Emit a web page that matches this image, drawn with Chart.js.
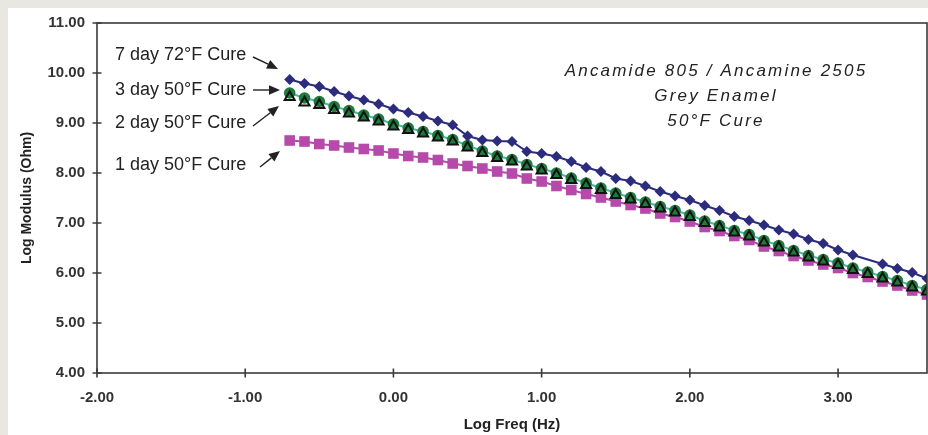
<!DOCTYPE html>
<html><head><meta charset="utf-8">
<script src="https://cdn.jsdelivr.net/npm/chart.js@4.4.1/dist/chart.umd.min.js"></script>
<style>
html,body{margin:0;padding:0;background:#e9e7e1;overflow:hidden;}
#wrap{position:absolute;left:0;top:0;width:928px;height:435px;}
</style></head><body>
<div id="wrap"><canvas id="c" width="928" height="435"></canvas></div>
<script>
// ---- data ----
const logFreq = [-0.7,-0.6,-0.5,-0.4,-0.3,-0.2,-0.1,0.0,0.1,0.2,0.3,0.4,0.5,0.6,0.7,0.8,0.9,1.0,1.1,1.2,1.3,1.4,1.5,1.6,1.7,1.8,1.9,2.0,2.1,2.2,2.3,2.4,2.5,2.6,2.7,2.8,2.9,3.0,3.1,3.2,3.3,3.4,3.5,3.6];
const cure7day72F = [9.87,9.79,9.73,9.63,9.54,9.46,9.38,9.28,9.21,9.13,9.04,8.96,8.74,8.66,8.64,8.63,8.43,8.39,8.33,8.23,8.11,8.03,7.89,7.84,7.74,7.63,7.54,7.46,7.35,7.25,7.13,7.05,6.96,6.86,6.78,6.67,6.59,6.46,6.36,null,6.18,6.09,6.01,5.89];
const cure3day50F = [9.60,9.50,9.43,9.33,9.25,9.16,9.08,8.98,8.90,8.83,8.75,8.67,8.55,8.44,8.34,8.27,8.17,8.09,8.00,7.90,7.80,7.70,7.60,7.51,7.42,7.33,7.25,7.16,7.04,6.95,6.85,6.77,6.65,6.55,6.45,6.35,6.27,6.20,6.10,6.02,5.93,5.85,5.75,5.67];
const cure2day50F = [9.52,9.41,9.36,9.26,9.19,9.11,9.03,8.93,8.86,8.79,8.71,8.63,8.51,8.40,8.30,8.23,8.13,8.05,7.96,7.86,7.76,7.66,7.56,7.47,7.38,7.29,7.21,7.12,7.00,6.91,6.81,6.73,6.61,6.51,6.41,6.31,6.23,6.16,6.06,5.98,5.89,5.81,5.71,5.63];
const cure1day50F = [8.65,8.63,8.58,8.55,8.51,8.48,8.45,8.39,8.34,8.31,8.26,8.19,8.14,8.09,8.03,7.99,7.89,7.83,7.74,7.66,7.58,7.51,7.43,7.36,7.29,7.19,7.12,7.03,6.92,6.84,6.74,6.66,6.53,6.44,6.34,6.25,6.17,6.10,6.00,5.92,5.83,5.75,5.65,5.57];
const xTickValues = [-2,-1,0,1,2,3];
const yTickValues = [4,5,6,7,8,9,10,11];
const seriesLabels = ['7 day 72°F Cure','3 day 50°F Cure','2 day 50°F Cure','1 day 50°F Cure'];
const titleLines = ['Ancamide 805 / Ancamine 2505','Grey Enamel','50°F Cure'];

const pts = arr => logFreq.map((f,i)=>({x:f,y:arr[i]}));
const FONT = '"Liberation Sans", Arial, sans-serif';
Chart.defaults.font.family = FONT;

function arrow(ctx,x1,y1,x2,y2){
  const a=Math.atan2(y2-y1,x2-x1), L=11, W=4.8;
  const bx=x2-L*Math.cos(a), by=y2-L*Math.sin(a);
  ctx.beginPath(); ctx.moveTo(x1,y1); ctx.lineTo(bx,by); ctx.stroke();
  ctx.beginPath(); ctx.moveTo(x2,y2);
  ctx.lineTo(bx+W*Math.sin(a), by-W*Math.cos(a));
  ctx.lineTo(bx-W*Math.sin(a), by+W*Math.cos(a));
  ctx.closePath(); ctx.fill();
}

const deco = {
  id:'deco',
  beforeDraw(chart){
    const ctx=chart.ctx; ctx.save();
    ctx.fillStyle='#e9e7e1'; ctx.fillRect(0,0,chart.width,chart.height);
    ctx.fillStyle='#ffffff'; ctx.fillRect(8,8,chart.width-8,chart.height-8);
    ctx.restore();
  },
  afterDraw(chart){
    const {ctx, chartArea:a, scales:{x,y}} = chart;
    ctx.save();
    ctx.strokeStyle='#3a3a3a'; ctx.lineWidth=1.6;
    ctx.strokeRect(a.left,a.top,a.right-a.left,a.bottom-a.top);
    ctx.beginPath();
    xTickValues.forEach(v=>{const px=x.getPixelForValue(v); ctx.moveTo(px,a.bottom-4.5); ctx.lineTo(px,a.bottom+4.5);});
    yTickValues.forEach(v=>{const py=y.getPixelForValue(v); ctx.moveTo(a.left-4.5,py); ctx.lineTo(a.left+4.5,py);});
    ctx.stroke();
    // series labels with arrows
    ctx.fillStyle='#222'; ctx.strokeStyle='#222'; ctx.lineWidth=1.4;
    ctx.font='18px '+FONT; ctx.textAlign='left'; ctx.textBaseline='alphabetic';
    const lab=[[115,60,[253,57,278,69]],[115,95,[253,90,280,90]],[115,128,[253,126,279,106]],[115,170,[260,167,280,151]]];
    lab.forEach((l,i)=>{ ctx.fillText(seriesLabels[i],l[0],l[1]); arrow(ctx,...l[2]); });
    // title block
    ctx.font='italic 17px '+FONT; ctx.textAlign='center';
    try{ ctx.letterSpacing='2.2px'; }catch(e){}
    const tb=[76,101,126];
    titleLines.forEach((t,i)=>ctx.fillText(t,716,tb[i]));
    ctx.restore();
  }
};

new Chart(document.getElementById('c'),{
  type:'scatter',
  data:{datasets:[
    {label:seriesLabels[0],data:pts(cure7day72F),showLine:true,spanGaps:true,borderColor:'#2b2c7e',backgroundColor:'#2b2c7e',borderWidth:2,pointStyle:'rectRot',pointRadius:5.5,pointBorderWidth:0,order:1},
    {label:seriesLabels[2],data:pts(cure2day50F),showLine:false,borderColor:'#111',backgroundColor:'rgba(0,0,0,0)',pointStyle:'triangle',pointRadius:5.8,pointBorderWidth:2,pointBorderColor:'#111',order:2},
    {label:seriesLabels[1],data:pts(cure3day50F),showLine:true,borderColor:'#4fb8a4',backgroundColor:'#1f7a3e',borderWidth:2,pointStyle:'circle',pointRadius:5.8,pointBorderWidth:0,order:3},
    {label:seriesLabels[3],data:pts(cure1day50F),showLine:true,borderColor:'#b54aab',backgroundColor:'#b54aab',borderWidth:2,pointStyle:'rect',pointRadius:7.5,pointBorderWidth:0,order:4}
  ]},
  options:{
    responsive:false, devicePixelRatio:1, animation:false,
    layout:{autoPadding:false,padding:{left:0,top:23,right:1,bottom:0}},
    plugins:{legend:{display:false},tooltip:{enabled:false}},
    scales:{
      x:{type:'linear',min:-2,max:3.6,
        afterBuildTicks:s=>{s.ticks=xTickValues.map(v=>({value:v}));},
        afterFit:s=>{s.height=62;},
        grid:{display:false},border:{display:false},
        ticks:{padding:8,color:'#333',font:{size:15,weight:'bold'},callback:v=>Number(v).toFixed(2),maxRotation:0,autoSkip:false},
        title:{display:true,text:'Log Freq (Hz)',color:'#222',font:{size:15,weight:'bold'},padding:{top:0,bottom:1}}
      },
      y:{type:'linear',min:4,max:11,
        afterBuildTicks:s=>{s.ticks=yTickValues.map(v=>({value:v}));},
        afterFit:s=>{s.width=97;},
        grid:{display:false},border:{display:false},
        ticks:{padding:4,color:'#333',font:{size:15,weight:'bold'},callback:v=>Number(v).toFixed(2)},
        title:{display:true,text:'Log Modulus (Ohm)',color:'#222',font:{size:14,weight:'bold'},padding:{top:19,bottom:0}}
      }
    }
  },
  plugins:[deco]
});
</script>
</body></html>
